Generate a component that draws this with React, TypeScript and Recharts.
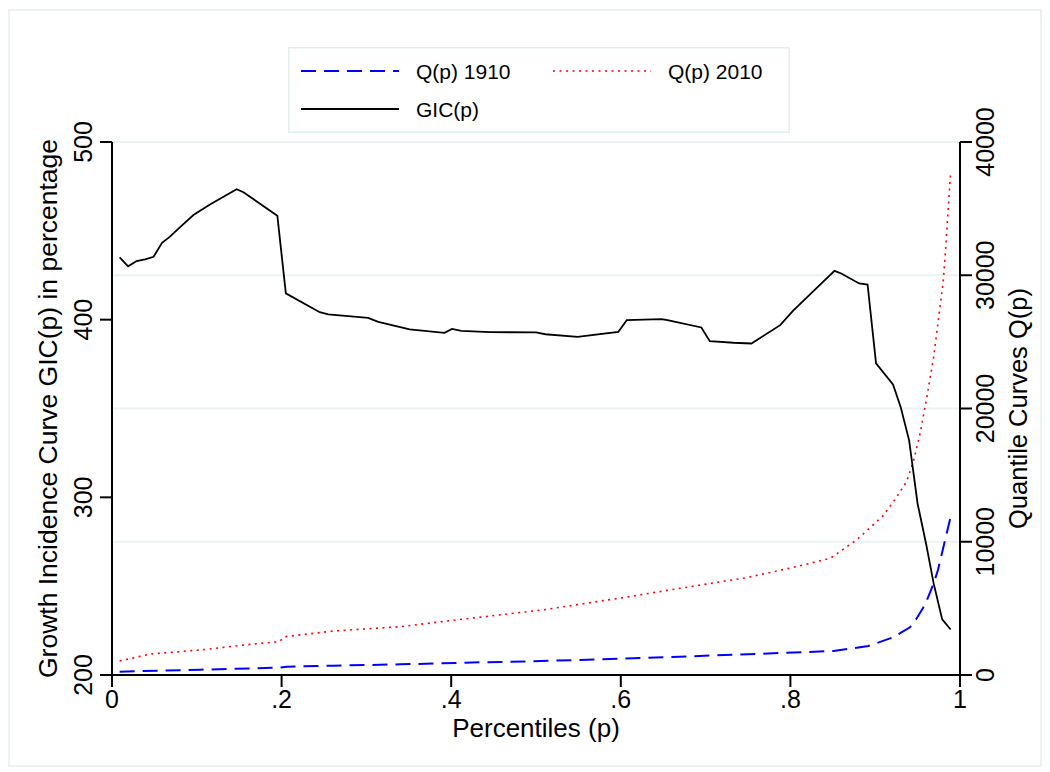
import {
  ComposedChart,
  Line,
  XAxis,
  YAxis,
  CartesianGrid,
  Legend,
} from "recharts";

// growth incidence curve, left axis
const gicP = [
  0.009, 0.019, 0.029, 0.039, 0.049, 0.059, 0.068, 0.08, 0.096, 0.116, 0.147,
  0.155, 0.195, 0.205, 0.245, 0.255, 0.302, 0.314, 0.351, 0.392, 0.401, 0.412,
  0.446, 0.5, 0.511, 0.549, 0.597, 0.607, 0.648, 0.655, 0.695, 0.705, 0.733,
  0.754, 0.788, 0.803, 0.852, 0.86, 0.881, 0.891, 0.901, 0.921, 0.93, 0.94,
  0.95, 0.96, 0.969, 0.979, 0.989,
];
const gicValues = [
  435, 430, 433, 434, 435.4, 443.3, 446.6, 452, 458.9, 465, 473.4, 471.7, 458.5,
  414.8, 404.2, 403, 401, 398.8, 394.5, 392.6, 394.8, 393.7, 393, 392.8, 391.8,
  390.3, 393.1, 399.7, 400.3, 399.7, 395.6, 387.9, 387, 386.6, 396.9, 405,
  427.5, 426, 420.4, 419.8, 375.4, 363.5, 350.9, 332.1, 296.4, 273.9, 251.4,
  231.3, 225.6,
];

// quantile curves, right axis
const q2010P = [
  0.009, 0.045, 0.104, 0.167, 0.197, 0.204, 0.261, 0.34, 0.399, 0.44, 0.513,
  0.605, 0.67, 0.748, 0.807, 0.847, 0.878, 0.909, 0.923, 0.937, 0.945, 0.953,
  0.961, 0.969, 0.974, 0.98, 0.983, 0.986, 0.989,
];
const q2010Values = [
  1050, 1576, 1876, 2326, 2500, 2875, 3300, 3627, 4078, 4378, 4929, 5830, 6507,
  7302, 8128, 8758, 10132, 11933, 13134, 14508, 16009, 18140, 20886, 23888,
  26394, 29396, 31896, 34898, 37772,
];

const q1910P = [
  0.009, 0.104, 0.198, 0.206, 0.261, 0.34, 0.434, 0.458, 0.552, 0.67, 0.788,
  0.851, 0.892, 0.921, 0.929, 0.941, 0.949, 0.959, 0.969, 0.974, 0.989,
];
const q1910Values = [
  250, 400, 550, 625, 700, 800, 950, 975, 1126, 1376, 1650, 1801, 2176, 2829,
  3127, 3580, 4255, 5300, 6882, 7880, 11880,
];

const xTicks = [0, 0.2, 0.4, 0.6, 0.8, 1];
const leftTicks = [200, 300, 400, 500];
const rightTicks = [0, 10000, 20000, 30000, 40000];

const gicData = gicP.map((p, i) => ({ p, gic: gicValues[i] }));
const q2010Data = q2010P.map((p, i) => ({ p, q2010: q2010Values[i] }));
const q1910Data = q1910P.map((p, i) => ({ p, q1910: q1910Values[i] }));

const FONT = "'Liberation Sans', Arial, sans-serif";

const lineStyles: Record<string, { stroke: string; dash?: string; width: number }> = {
  q1910: { stroke: "#0000ff", dash: "15 8", width: 2 },
  q2010: { stroke: "#ff0000", dash: "2 4.5", width: 1.6 },
  gic: { stroke: "#000000", width: 1.8 },
};

// where each legend key sits inside the legend box
const legendSlots: Record<string, { x: number; row: number }> = {
  q1910: { x: 13, row: 0 },
  q2010: { x: 265, row: 0 },
  gic: { x: 13, row: 1 },
};

function RotatedTick(props: any) {
  const { x, y, payload } = props;
  return (
    <text
      x={x}
      y={y}
      transform={`rotate(-90 ${x} ${y})`}
      textAnchor="middle"
      fontSize={25}
      fontFamily={FONT}
      fill="#000"
    >
      {payload.value}
    </text>
  );
}

function formatP(v: number) {
  if (v === 0) return "0";
  if (v === 1) return "1";
  return String(v).replace(/^0/, "");
}

function GicLegend(props: any) {
  const payload = props.payload || [];
  return (
    <svg width={502} height={86} style={{ display: "block" }}>
      <rect x={0.75} y={0.75} width={500.5} height={84.5} fill="#fff" stroke="#e4eded" strokeWidth={1.5} />
      {payload.map((entry: any) => {
        const s = legendSlots[entry.dataKey];
        const st = lineStyles[entry.dataKey];
        if (!s || !st) return null;
        const ly = s.row === 0 ? 24 : 62;
        return (
          <g key={entry.dataKey}>
            <line
              x1={s.x}
              x2={s.x + 98}
              y1={ly}
              y2={ly}
              stroke={st.stroke}
              strokeWidth={st.width}
              strokeDasharray={st.dash}
            />
            <text x={s.x + 115} y={ly + 8} fontSize={21} fontFamily={FONT} fill="#000">
              {entry.value}
            </text>
          </g>
        );
      })}
    </svg>
  );
}

export default function App() {
  return (
    <div style={{ position: "absolute", left: 0, top: 0, width: 1050, height: 772, background: "#fff" }}>
      <div
        style={{
          position: "absolute",
          left: 8,
          top: 9,
          width: 1030,
          height: 754,
          border: "2px solid #eaf2f3",
        }}
      />
      <ComposedChart
        width={1050}
        height={772}
        margin={{ top: 142, right: 0, bottom: 0, left: 0 }}
        style={{ fontFamily: FONT }}
      >
        <CartesianGrid yAxisId="right" vertical={false} stroke="#eaf2f3" strokeWidth={2} />
        <XAxis
          dataKey="p"
          type="number"
          domain={[0, 1]}
          ticks={xTicks}
          tickFormatter={formatP}
          height={97}
          tickSize={12}
          tickMargin={3}
          axisLine={{ stroke: "#000", strokeWidth: 2 }}
          tickLine={{ stroke: "#000", strokeWidth: 2 }}
          tick={{ fontSize: 25, fill: "#000", fontFamily: FONT }}
          allowDuplicatedCategory={false}
          label={{
            value: "Percentiles (p)",
            position: "insideBottom",
            offset: 35,
            fontSize: 26,
            fill: "#000",
            fontFamily: FONT,
          }}
        />
        <YAxis
          yAxisId="left"
          orientation="left"
          domain={[200, 500]}
          ticks={leftTicks}
          width={112}
          tickSize={12}
          tickMargin={8}
          axisLine={{ stroke: "#000", strokeWidth: 2 }}
          tickLine={{ stroke: "#000", strokeWidth: 2 }}
          tick={<RotatedTick />}
          label={{
            value: "Growth Incidence Curve GIC(p) in percentage",
            angle: -90,
            position: "center",
            dx: -8,
            fontSize: 26.5,
            fill: "#000",
            fontFamily: FONT,
          }}
        />
        <YAxis
          yAxisId="right"
          orientation="right"
          domain={[0, 40000]}
          ticks={rightTicks}
          width={90}
          tickSize={12}
          tickMargin={22}
          axisLine={{ stroke: "#000", strokeWidth: 2 }}
          tickLine={{ stroke: "#000", strokeWidth: 2 }}
          tick={<RotatedTick />}
          label={{
            value: "Quantile Curves Q(p)",
            angle: -90,
            position: "center",
            dx: 13,
            fontSize: 25.5,
            fill: "#000",
            fontFamily: FONT,
          }}
        />
        <Legend
          layout="vertical"
          verticalAlign="middle"
          align="center"
          content={<GicLegend />}
          wrapperStyle={{ left: 288, top: 47, width: 502, height: 86 }}
        />
        <Line
          yAxisId="right"
          data={q1910Data}
          dataKey="q1910"
          name="Q(p) 1910"
          type="linear"
          stroke={lineStyles.q1910.stroke}
          strokeWidth={lineStyles.q1910.width}
          strokeDasharray={lineStyles.q1910.dash}
          dot={false}
          activeDot={false}
          isAnimationActive={false}
        />
        <Line
          yAxisId="right"
          data={q2010Data}
          dataKey="q2010"
          name="Q(p) 2010"
          type="linear"
          stroke={lineStyles.q2010.stroke}
          strokeWidth={lineStyles.q2010.width}
          strokeDasharray={lineStyles.q2010.dash}
          dot={false}
          activeDot={false}
          isAnimationActive={false}
        />
        <Line
          yAxisId="left"
          data={gicData}
          dataKey="gic"
          name="GIC(p)"
          type="linear"
          stroke={lineStyles.gic.stroke}
          strokeWidth={lineStyles.gic.width}
          dot={false}
          activeDot={false}
          isAnimationActive={false}
        />
      </ComposedChart>
    </div>
  );
}
